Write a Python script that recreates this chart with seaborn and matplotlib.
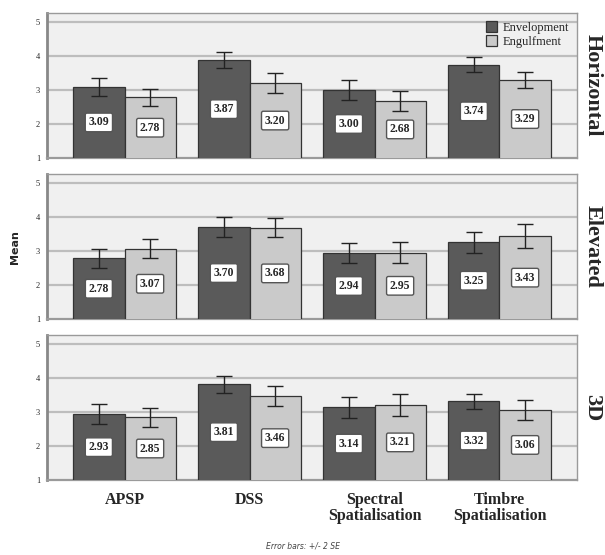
import numpy as np
import pandas as pd
import matplotlib
matplotlib.use("Agg")
import matplotlib.pyplot as plt
import seaborn as sns

techniques = ["APSP", "DSS", "Spectral\nSpatialisation", "Timbre\nSpatialisation"]
methods = ["Envelopment", "Engulfment"]
conditions = ["Horizontal", "Elevated", "3D"]

horiz_env = [3.09, 3.87, 3.00, 3.74]
horiz_eng = [2.78, 3.20, 2.68, 3.29]
elev_env = [2.78, 3.70, 2.94, 3.25]
elev_eng = [3.07, 3.68, 2.95, 3.43]
d3_env = [2.93, 3.81, 3.14, 3.32]
d3_eng = [2.85, 3.46, 3.21, 3.06]

horiz_env_err = [0.26, 0.23, 0.30, 0.22]
horiz_eng_err = [0.25, 0.29, 0.29, 0.24]
elev_env_err = [0.27, 0.30, 0.30, 0.30]
elev_eng_err = [0.28, 0.28, 0.30, 0.35]
d3_env_err = [0.29, 0.25, 0.31, 0.22]
d3_eng_err = [0.28, 0.30, 0.33, 0.30]

means = {"Horizontal": (horiz_env, horiz_eng), "Elevated": (elev_env, elev_eng), "3D": (d3_env, d3_eng)}
errs = {"Horizontal": (horiz_env_err, horiz_eng_err), "Elevated": (elev_env_err, elev_eng_err),
        "3D": (d3_env_err, d3_eng_err)}

rows = []
for c in conditions:
    for mi, m in enumerate(methods):
        for ti, t in enumerate(techniques):
            rows.append(dict(condition=c, technique=t, method=m,
                             mean=means[c][mi][ti], err=errs[c][mi][ti]))
df = pd.DataFrame(rows)

sns.set_theme(style="white")
serif = ["Liberation Serif", "DejaVu Serif"]

fig = plt.figure(figsize=(6.05, 5.55), dpi=100)
left, width = 47 / 605, 530 / 605
tops = [13, 174, 335]
h = 145
palette = {"Envelopment": "#5a5a5a", "Engulfment": "#cacaca"}

for pi, c in enumerate(conditions):
    bottom = 1 - (tops[pi] + h) / 555
    ax = fig.add_axes([left, bottom, width, h / 555])
    ax.set_facecolor("#f0f0f0")
    sub = df[df.condition == c]
    sns.barplot(data=sub, x="technique", y="mean", hue="method", order=techniques,
                hue_order=methods, palette=palette, width=0.82, errorbar=None,
                edgecolor="#333333", linewidth=0.9, saturation=1, ax=ax, zorder=3,
                legend=(pi == 0))
    ax.set_ylim(1, 5.26)
    ax.set_xlim(-0.62, 3.62)
    ax.set_yticks([1, 2, 3, 4, 5])
    for y in [2, 3, 4, 5]:
        ax.axhline(y, color="#bdbdbd", lw=1.6, zorder=1)
    ax.set_yticklabels(["1", "2", "3", "4", "5"], fontsize=6, family=serif)
    ax.tick_params(axis="y", direction="out", length=4, width=1, color="#555555", pad=1)
    ax.set_xlabel("")
    ax.set_ylabel("")
    for side, s in ax.spines.items():
        s.set_visible(True)
        s.set_color("#9a9a9a")
        s.set_linewidth(1.0)
    ax.spines["left"].set_linewidth(2.0)
    ax.spines["left"].set_color("#888888")
    ax.spines["bottom"].set_linewidth(1.6)
    if pi < 2:
        ax.set_xticks([])
    else:
        ax.tick_params(axis="x", direction="out", length=7, width=1.2, color="#333333", pad=2)
        ax.set_xticklabels(techniques, fontsize=11.5, fontweight="bold", family=serif,
                           linespacing=1.0)
    bar_conts = list(ax.containers)[:2]
    for mi, cont in enumerate(bar_conts):
        vals = means[c][mi]
        ers = errs[c][mi]
        for bar, v, e in zip(cont.patches, vals, ers):
            xc = bar.get_x() + bar.get_width() / 2
            ax.errorbar(xc, v, yerr=e, color="#222222", capsize=5.5, elinewidth=1.0,
                        capthick=1.0, zorder=5)
            ax.text(xc, (1 + v) / 2, f"{v:.2f}", ha="center", va="center", fontsize=8.5,
                    fontweight="bold", family=serif, zorder=6,
                    bbox=dict(boxstyle="round,pad=0.28,rounding_size=0.15", fc="white",
                              ec="#555555", lw=1.0))
    ax.text(1.01, 0.5, c, transform=ax.transAxes, rotation=270, ha="left", va="center",
            fontsize=16, fontweight="bold", family=serif)
    if pi == 0:
        leg = ax.legend(loc="upper right", frameon=False, prop={"family": serif, "size": 9},
                        handlelength=0.9, handleheight=0.9, handletextpad=0.4,
                        borderaxespad=0.25, labelspacing=0.12)
        for p in leg.get_patches():
            p.set_edgecolor("#333333")

fig.text(15 / 605, 1 - 247 / 555, "Mean", rotation=90, ha="center", va="center",
         fontsize=8, fontweight="bold")
fig.text(0.5, 1 - 546 / 555, "Error bars: +/- 2 SE", ha="center", va="center",
         fontsize=5.5, color="#444444", style="italic")

fig.savefig("out.png", dpi=100)
